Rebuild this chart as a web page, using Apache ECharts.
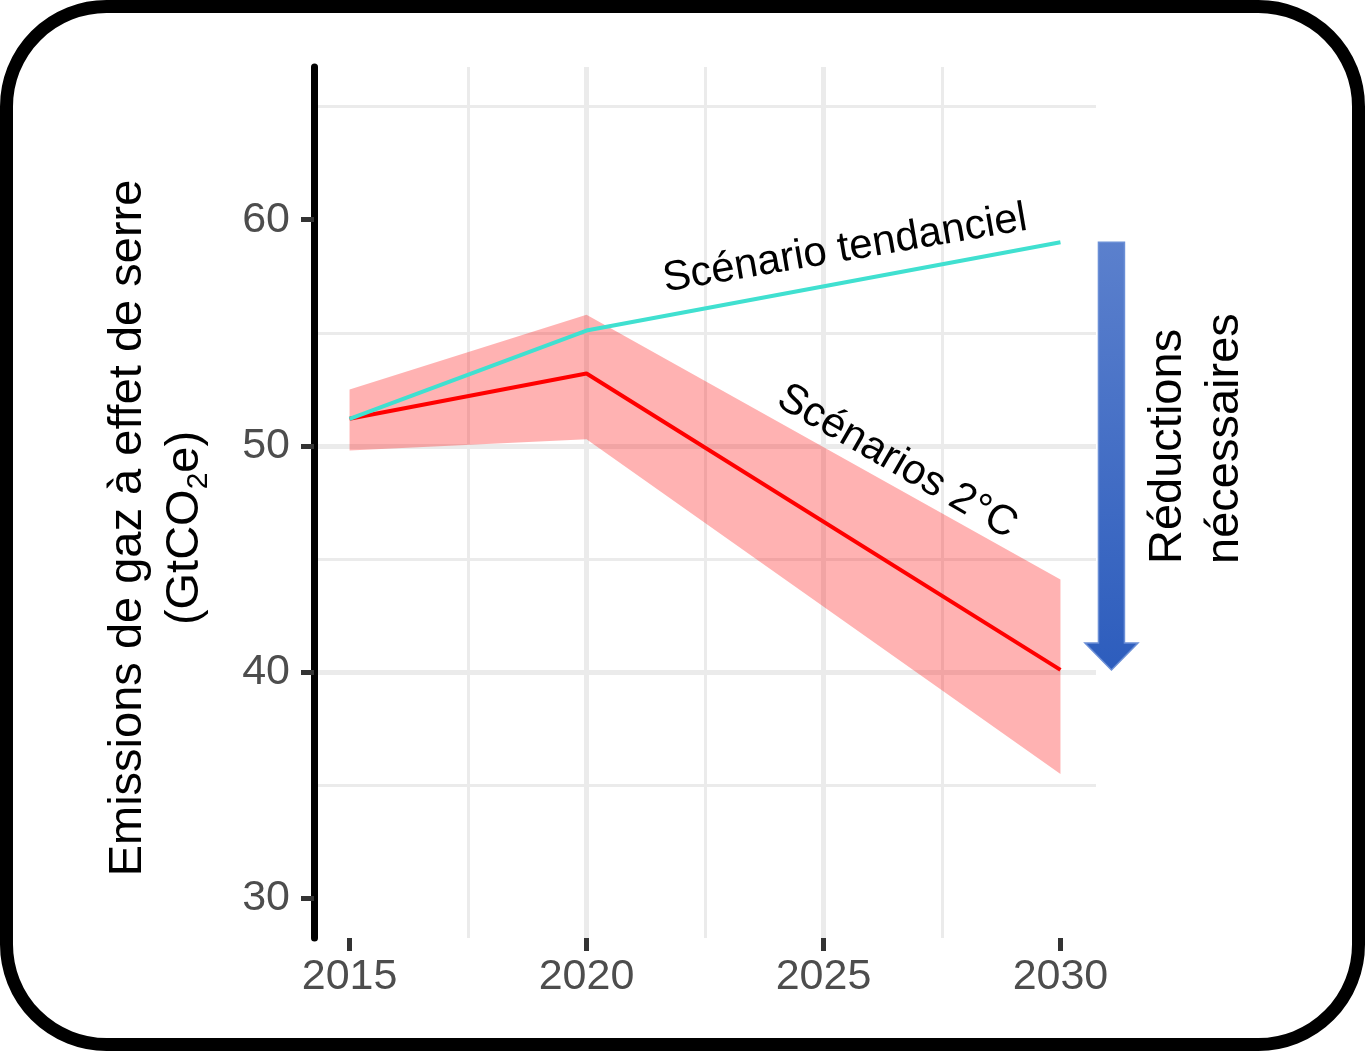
<!DOCTYPE html>
<html><head><meta charset="utf-8">
<script src="https://cdn.jsdelivr.net/npm/echarts@6/dist/echarts.min.js"></script>
<style>html,body{margin:0;padding:0;background:#fff}#c{width:1365px;height:1051px}</style>
</head><body><div id="c"></div>
<script>
// ---- data ----
const years = [2015, 2020, 2030];
const tendanciel = [51.2, 55.1, 59.0];
const scen2C = [51.2, 53.2, 40.1];
const ribbonLow = [49.8, 50.3, 35.5];
const ribbonHigh = [52.5, 55.8, 44.1];
const xTicks = [2015, 2020, 2025, 2030];
const yTicks = [30, 40, 50, 60];
const yTitle1 = 'Emissions de gaz à effet de serre';
const yTitle2 = '(GtCO{sub|2}e)';
const labelTendanciel = 'Scénario tendanciel';
const label2C = 'Scénarios 2°C';
const labelReductions = 'Réductions\nnécessaires';

const FONT = '"Liberation Sans", Arial, Helvetica, sans-serif';
const pairs = (ys) => years.map((x, i) => [x, ys[i]]);

const chart = echarts.init(document.getElementById('c'), null, {renderer: 'canvas'});

const axisCommon = {
  type: 'value',
  splitLine: {show: true, showMinLine: false, showMaxLine: false, lineStyle: {color: '#ebebeb', width: 5}},
  minorTick: {show: false, splitNumber: 2},
  minorSplitLine: {show: true, lineStyle: {color: '#ebebeb', width: 3}},
};

chart.setOption({
  animation: false,
  backgroundColor: '#ffffff',
  grid: {left: 314, right: 269, top: 67, bottom: 113, containLabel: false},
  xAxis: Object.assign({}, axisCommon, {
    min: 2014.25, max: 2030.75, minInterval: 5, maxInterval: 5,
    axisLine: {show: false},
    axisTick: {show: true, customValues: xTicks, length: 13, lineStyle: {color: '#333333', width: 5}},
    axisLabel: {customValues: xTicks, fontSize: 43, color: '#4d4d4d', margin: 18, fontFamily: FONT,
      formatter: (v) => String(v)}
  }),
  yAxis: Object.assign({}, axisCommon, {
    min: 28.25, max: 66.75, minInterval: 10, maxInterval: 10,
    axisLine: {show: true, lineStyle: {color: '#000000', width: 7, cap: 'round'}},
    axisTick: {show: true, customValues: yTicks, length: 13, lineStyle: {color: '#333333', width: 5}},
    axisLabel: {customValues: yTicks, fontSize: 43, color: '#4d4d4d', margin: 24, fontFamily: FONT,
      formatter: (v) => String(v)}
  }),
  series: [
    {type: 'custom', name: 'ribbon', silent: true, z: 2,
      data: years.map((x, i) => [x, ribbonLow[i], ribbonHigh[i]]),
      encode: {x: 0, y: [1, 2]},
      renderItem: function (params, api) {
        if (params.dataIndex !== 0) return null;
        const pts = [];
        for (let i = 0; i < years.length; i++) pts.push(api.coord([years[i], ribbonHigh[i]]));
        for (let i = years.length - 1; i >= 0; i--) pts.push(api.coord([years[i], ribbonLow[i]]));
        return {type: 'polygon', shape: {points: pts}, style: {fill: 'rgba(255,0,0,0.3)'}};
      }},
    {type: 'line', name: 'Scénarios 2°C', data: pairs(scen2C), symbol: 'none',
      lineStyle: {color: '#ff0000', width: 4}, z: 3},
    {type: 'line', name: 'Scénario tendanciel', data: pairs(tendanciel), symbol: 'none',
      lineStyle: {color: '#40e0d0', width: 4}, z: 4}
  ]
});

// arrow from tendanciel end to 2°C end, placed right of the last year
const pTop = chart.convertToPixel({gridIndex: 0}, [years[2], tendanciel[2]]);
const pBot = chart.convertToPixel({gridIndex: 0}, [years[2], scen2C[2]]);
const cx = pTop[0] + 51, yT = pTop[1], yB = pBot[1];
const arrowPts = [[cx - 13, yT], [cx + 13, yT], [cx + 13, yB - 27], [cx + 26.5, yB - 27], [cx, yB],
  [cx - 26.5, yB - 27], [cx - 13, yB - 27]];

chart.setOption({
  graphic: [
    {type: 'rect', z: 100, silent: true,
      shape: {x: 6.5, y: 6.5, width: 1352, height: 1038, r: 100},
      style: {fill: 'none', stroke: '#000000', lineWidth: 13}},
    {type: 'text', z: 50, x: 157, y: 528, rotation: Math.PI / 2, silent: true,
      style: {text: yTitle1 + '\n' + yTitle2, x: 0, y: 0, align: 'center', verticalAlign: 'middle',
        fontSize: 47, fontFamily: FONT, fill: '#000000', lineHeight: 57,
        rich: {sub: {fontSize: 30, fontFamily: FONT, lineHeight: 30, verticalAlign: 'bottom', fill: '#000000'}}}},
    {type: 'text', z: 50, x: 845, y: 249, rotation: 9.7 * Math.PI / 180, silent: true,
      style: {text: labelTendanciel, x: 0, y: 0, align: 'center', verticalAlign: 'middle',
        fontSize: 42, fontFamily: FONT, fill: '#000000'}},
    {type: 'text', z: 50, x: 897, y: 462, rotation: -30 * Math.PI / 180, silent: true,
      style: {text: label2C, x: 0, y: 0, align: 'center', verticalAlign: 'middle',
        fontSize: 42, fontFamily: FONT, fill: '#000000'}},
    {type: 'text', z: 50, x: 1197, y: 564, rotation: Math.PI / 2, silent: true,
      style: {text: labelReductions, x: 0, y: 0, align: 'left', verticalAlign: 'middle',
        fontSize: 47, fontFamily: FONT, fill: '#000000', lineHeight: 57}},
    {type: 'polygon', z: 40, silent: true,
      shape: {points: arrowPts},
      style: {fill: new echarts.graphic.LinearGradient(0, 0, 0, 1, [
        {offset: 0, color: '#5b80cd'}, {offset: 1, color: '#2d5dbd'}]),
        stroke: '#6b8fd6', lineWidth: 1.5}}
  ]
});
</script></body></html>
